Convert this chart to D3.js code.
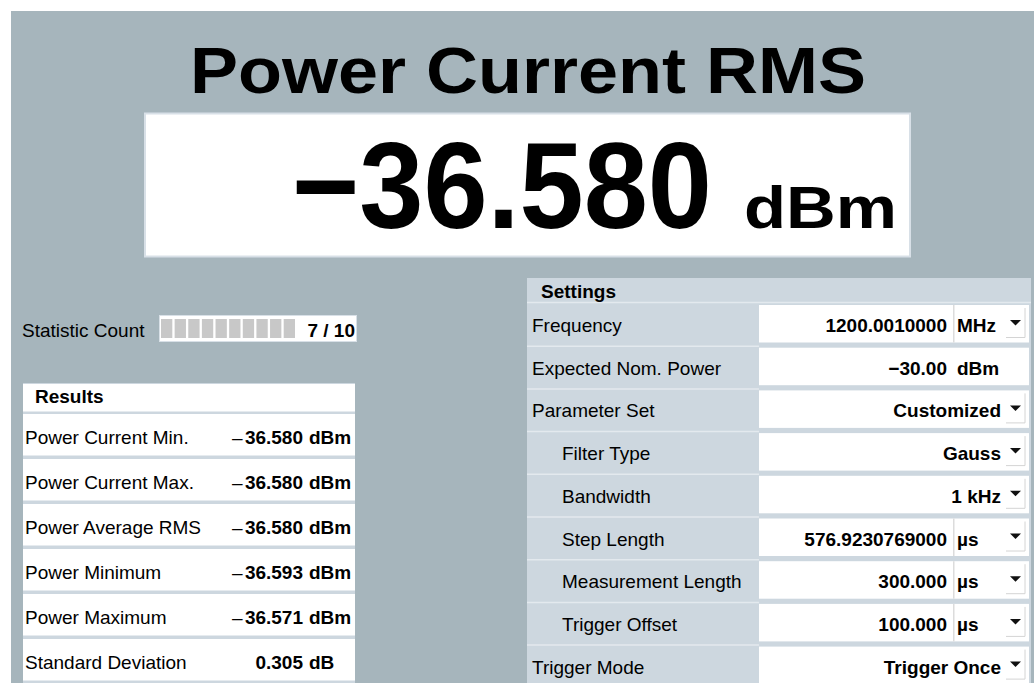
<!DOCTYPE html>
<html>
<head>
<meta charset="utf-8">
<script src="https://cdn.jsdelivr.net/npm/d3@7"></script>
<style>
  body { margin: 0; background: #ffffff; }
  svg { display: block; }
  text { font-family: "Liberation Sans", Arial, sans-serif; fill: #000; }
</style>
</head>
<body>
<div id="chart"></div>
<script>
// measurement readout
const titleText = "Power Current RMS";
const mainValue = -36.580;
const mainUnit = "dBm";

// statistic count: done / total
const statCount = [7, 10];

// results table
const resultLabels = ["Power Current Min.", "Power Current Max.", "Power Average RMS",
    "Power Minimum", "Power Maximum", "Standard Deviation"];
const resultValues = [-36.580, -36.580, -36.580, -36.593, -36.571, 0.305];
const resultUnits = ["dBm", "dBm", "dBm", "dBm", "dBm", "dB"];

// settings table
const settingLabels = ["Frequency", "Expected Nom. Power", "Parameter Set", "Filter Type",
    "Bandwidth", "Step Length", "Measurement Length", "Trigger Offset", "Trigger Mode"];
const settingValues = ["1200.0010000", "\u221230.00", "Customized", "Gauss", "1 kHz",
    "576.9230769000", "300.000", "100.000", "Trigger Once"];
const settingUnits = ["MHz", "dBm", "", "", "", "\u00b5s", "\u00b5s", "\u00b5s", ""];
const settingIndent = [0, 0, 0, 1, 1, 1, 1, 1, 0];
const settingDropdown = [1, 0, 1, 1, 1, 1, 1, 1, 1];

const W = 1034, H = 683;
const bg = "#a6b5bc", panel = "#cdd7df", edge = "#d8e0e7";

const svg = d3.select("#chart").append("svg")
    .attr("width", W).attr("height", H);

svg.append("rect").attr("x", 11).attr("y", 11)
    .attr("width", W - 11).attr("height", H - 11).attr("fill", bg);

// title
svg.append("text").attr("x", 190).attr("y", 93)
    .attr("font-size", 65).attr("font-weight", "bold")
    .attr("textLength", 676).attr("lengthAdjust", "spacingAndGlyphs")
    .text(titleText);

// big value box
svg.append("rect").attr("x", 145).attr("y", 113.5)
    .attr("width", 765).attr("height", 143)
    .attr("fill", "#fff").attr("stroke", edge).attr("stroke-width", 2);
svg.append("text").attr("x", 292).attr("y", 228)
    .attr("font-size", 123).attr("font-weight", "bold")
    .attr("textLength", 420).attr("lengthAdjust", "spacingAndGlyphs")
    .text((mainValue < 0 ? "\u2212" : "") + Math.abs(mainValue).toFixed(3));
svg.append("text").attr("x", 744).attr("y", 228)
    .attr("font-size", 59).attr("font-weight", "bold")
    .attr("textLength", 153).attr("lengthAdjust", "spacingAndGlyphs")
    .text(mainUnit);

// statistic count
svg.append("text").attr("x", 22).attr("y", 337).attr("font-size", 19)
    .text("Statistic Count");
svg.append("rect").attr("x", 159.5).attr("y", 315.5)
    .attr("width", 197).attr("height", 26)
    .attr("fill", "#fff").attr("stroke", edge).attr("stroke-width", 1);
const seg = d3.scaleBand().domain(d3.range(statCount[1]))
    .range([161, 295]).paddingInner(0.17);
svg.append("g").selectAll("rect").data(d3.range(statCount[1])).join("rect")
    .attr("x", d => seg(d)).attr("y", 319)
    .attr("width", seg.bandwidth()).attr("height", 19)
    .attr("fill", "#c8c8c8");
svg.append("text").attr("x", 355).attr("y", 337).attr("font-size", 19)
    .attr("font-weight", "bold").attr("text-anchor", "end")
    .text(statCount[0] + " / " + statCount[1]);

// results
const rx0 = 23, rx1 = 355;
svg.append("rect").attr("x", rx0).attr("y", 383)
    .attr("width", rx1 - rx0).attr("height", H - 383).attr("fill", panel);
svg.append("rect").attr("x", rx0).attr("y", 384)
    .attr("width", rx1 - rx0).attr("height", 27.5).attr("fill", "#fff");
svg.append("text").attr("x", 35).attr("y", 403).attr("font-size", 19)
    .attr("font-weight", "bold").text("Results");

const ry = d3.scaleBand().domain(d3.range(resultLabels.length)).range([412, 682]);
const rrow = svg.append("g").selectAll("g").data(resultLabels).join("g")
    .attr("transform", (d, i) => `translate(0,${ry(i)})`);
rrow.append("rect").attr("x", rx0).attr("y", 2)
    .attr("width", rx1 - rx0).attr("height", ry.bandwidth() - 3.5)
    .attr("fill", "#fff");
rrow.append("text").attr("x", 25).attr("y", 32).attr("font-size", 19)
    .text(d => d);
rrow.filter((d, i) => resultValues[i] < 0).append("text")
    .attr("x", 232).attr("y", 32).attr("font-size", 19)
    .text("\u2013");
rrow.append("text").attr("x", 303).attr("y", 32).attr("font-size", 19)
    .attr("font-weight", "bold").attr("text-anchor", "end")
    .text((d, i) => Math.abs(resultValues[i]).toFixed(3));
rrow.append("text").attr("x", 309).attr("y", 32).attr("font-size", 19)
    .attr("font-weight", "bold").text((d, i) => resultUnits[i]);

// settings
const sx0 = 527, sx1 = 1031, vx0 = 759, vx1 = 1029;
svg.append("rect").attr("x", sx0).attr("y", 278)
    .attr("width", sx1 - sx0).attr("height", H - 278).attr("fill", panel);
svg.append("line").attr("x1", sx0).attr("x2", sx1).attr("y1", 302.5).attr("y2", 302.5)
    .attr("stroke", "#e3e9ee").attr("stroke-width", 1.5);
svg.append("text").attr("x", 541).attr("y", 298).attr("font-size", 19)
    .attr("font-weight", "bold").text("Settings");

const sy = d3.scaleBand().domain(d3.range(settingLabels.length))
    .range([303, 303 + 42.7 * settingLabels.length]);
const srow = svg.append("g").selectAll("g").data(settingLabels).join("g")
    .attr("transform", (d, i) => `translate(0,${sy(i)})`);
srow.filter((d, i) => i > 0).append("line")
    .attr("x1", sx0).attr("x2", vx0).attr("y1", 0.5).attr("y2", 0.5)
    .attr("stroke", "#e3e9ee").attr("stroke-width", 1.5);
srow.append("rect").attr("x", vx0).attr("y", 2)
    .attr("width", vx1 - vx0).attr("height", 37.5).attr("fill", "#fff");
srow.append("text")
    .attr("x", (d, i) => settingIndent[i] ? 562 : 532)
    .attr("y", 29).attr("font-size", 19).attr("fill", "#111")
    .text(d => d);
srow.append("text")
    .attr("x", (d, i) => settingUnits[i] ? 947 : 1001)
    .attr("y", 29).attr("font-size", 19).attr("font-weight", "bold")
    .attr("text-anchor", "end")
    .text((d, i) => settingValues[i]);
srow.append("text").attr("x", 957).attr("y", 29).attr("font-size", 19)
    .attr("font-weight", "bold").text((d, i) => settingUnits[i]);
// unit divider
srow.filter((d, i) => settingUnits[i] && settingDropdown[i]).append("rect")
    .attr("x", 953).attr("y", 2).attr("width", 1.5).attr("height", 37.5)
    .attr("fill", "#dcdcdc");
// dropdown arrows and bevel
const dd = srow.filter((d, i) => settingDropdown[i]);
dd.append("path").attr("d", "M1010,17 L1021,17 L1015.5,22.5 Z").attr("fill", "#111");
dd.append("path").attr("d", "M1006,34.5 L1025,34.5 L1025,5")
    .attr("fill", "none").attr("stroke", "#d4d4d4").attr("stroke-width", 1);
</script>
</body>
</html>
